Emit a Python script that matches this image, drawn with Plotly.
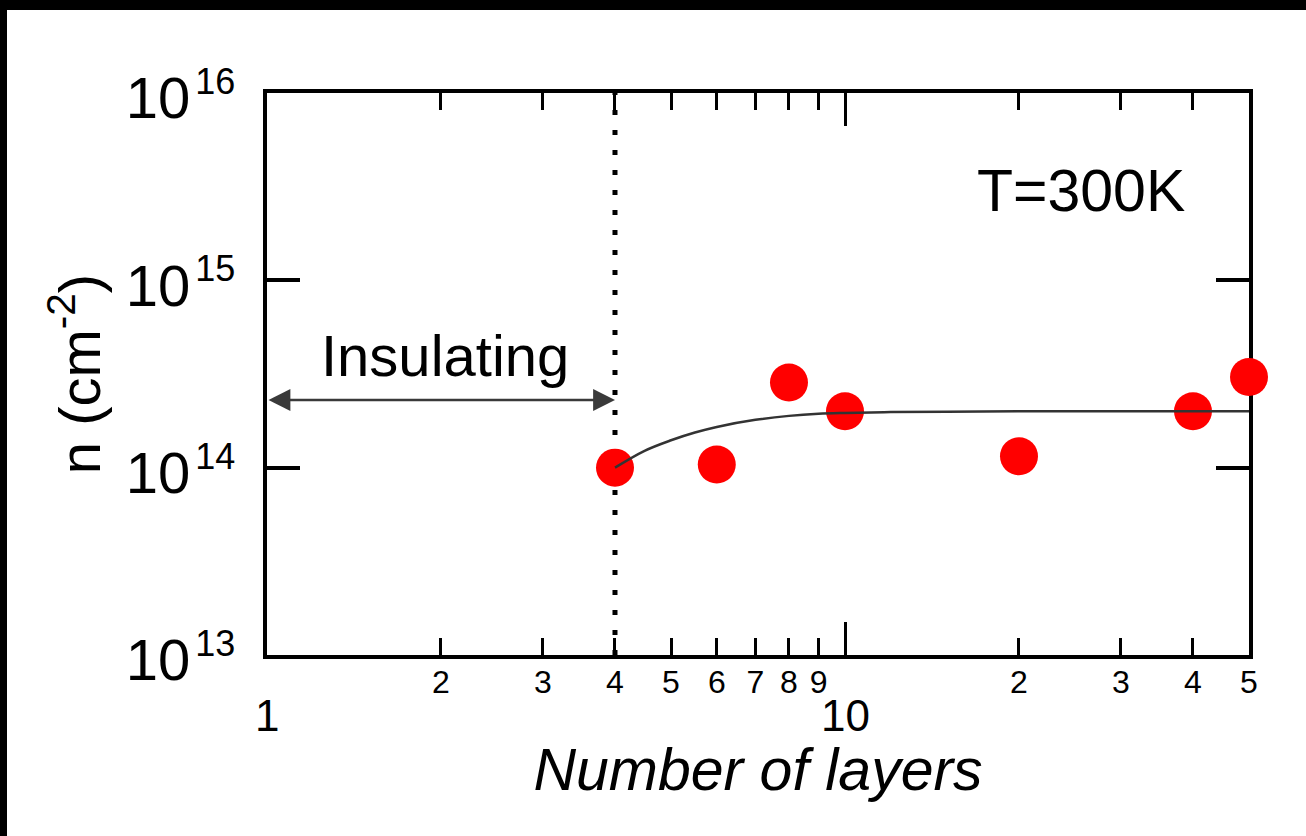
import numpy as np
import plotly.graph_objects as go

# ---- data ----
layers = [4, 6, 8, 10, 20, 40, 50]
density = [1.0e14, 1.04e14, 2.85e14, 2.0e14, 1.15e14, 2.0e14, 3.05e14]

fit_x = [4, 4.5, 5.0, 5.5, 6.0, 7.0, 8.0, 9.0, 10, 12, 15, 20, 30, 50]
fit_y = [1.0e14, 1.23e14, 1.40e14, 1.54e14, 1.65e14, 1.80e14, 1.89e14, 1.94e14,
         1.96e14, 1.98e14, 1.99e14, 2.0e14, 2.0e14, 2.0e14]

boundary_x = [4, 4]
boundary_y = [1e13, 1e16]

x_minor_vals = [2, 3, 4, 5, 6, 7, 8, 9, 20, 30, 40, 50]
x_minor_text = ["2", "3", "4", "5", "6", "7", "8", "9", "2", "3", "4", "5"]
x_major_vals = [1, 10]
x_major_text = ["1", "10"]
y_vals = [1e13, 1e14, 1e15, 1e16]
y_exps = ["13", "14", "15", "16"]
y_text = ["10<span style='font-size:18px'> </span><sup><span style='font-size:36px'>%s</span></sup>" % e
          for e in y_exps]

FONT = "Liberation Sans, Arial, sans-serif"

fig = go.Figure()
fig.add_trace(go.Scatter(x=boundary_x, y=boundary_y, mode="lines",
                         line=dict(color="black", width=5, dash="5px,15px"),
                         hoverinfo="skip", showlegend=False))
fig.add_trace(go.Scatter(x=layers, y=density, mode="markers",
                         marker=dict(color="#ff0000", size=38, line=dict(width=0)),
                         cliponaxis=False, showlegend=False))
fig.add_trace(go.Scatter(x=fit_x, y=fit_y, mode="lines", line_shape="spline",
                         line=dict(color="#333333", width=2.5),
                         cliponaxis=False, showlegend=False))

annotations = []
for v, t in zip(x_major_vals, x_major_text):
    annotations.append(dict(x=np.log10(v), y=-0.108, xref="x", yref="paper",
                            text=t, showarrow=False, xanchor="center", yanchor="middle",
                            font=dict(family=FONT, size=44, color="black")))
annotations.append(dict(x=np.log10(4), y=14.361, ax=0, ay=14.361, xref="x", yref="y",
                        axref="x", ayref="y", text="", showarrow=True,
                        arrowhead=2, startarrowhead=2, arrowside="end+start",
                        arrowwidth=2.5, arrowsize=1.75, startarrowsize=1.75,
                        arrowcolor="#3a3a3a", standoff=0, startstandoff=0))
annotations.append(dict(x=0.308, y=14.60, xref="x", yref="y", text="Insulating",
                        showarrow=False, xanchor="center", yanchor="middle",
                        font=dict(family=FONT, size=58, color="black")))
annotations.append(dict(x=1.408, y=15.477, xref="x", yref="y", text="T=300K",
                        showarrow=False, xanchor="center", yanchor="middle",
                        font=dict(family=FONT, size=59, color="black")))

W, H = 1306, 836
L, R, T, B = 267, 57, 93, 181
pw, ph = W - L - R, H - T - B
def px(x):
    return (x - L) / pw
def py(y):
    return (H - B - y) / ph

shapes = [
    dict(type="rect", xref="paper", yref="paper", x0=px(0), x1=px(7), y0=py(H), y1=py(0),
         fillcolor="black", line=dict(width=0), layer="above"),
    dict(type="rect", xref="paper", yref="paper", x0=px(0), x1=px(W), y0=py(10), y1=py(0),
         fillcolor="black", line=dict(width=0), layer="above"),
]

fig.update_layout(
    width=W, height=H,
    margin=dict(l=L, r=R, t=T, b=B, pad=0),
    paper_bgcolor="white", plot_bgcolor="white",
    showlegend=False,
    annotations=annotations,
    shapes=shapes,
    xaxis=dict(type="log", range=[0, np.log10(50)],
               showgrid=False, zeroline=False,
               showline=True, linecolor="black", linewidth=4, mirror="allticks",
               ticks="inside", ticklen=17, tickwidth=3, tickcolor="black",
               tickmode="array", tickvals=x_minor_vals, ticktext=x_minor_text,
               tickfont=dict(family=FONT, size=32, color="black"),
               ticklabelstandoff=-4,
               minor=dict(tickmode="array", tickvals=[10], ticks="inside", ticklen=33,
                          tickwidth=3, tickcolor="black", showgrid=False),
               title=dict(text="<i>Number of layers</i>", standoff=50,
                          font=dict(family=FONT, size=59, color="black")),
               layer="below traces"),
    yaxis=dict(type="log", range=[13, 16],
               showgrid=False, zeroline=False,
               showline=True, linecolor="black", linewidth=4, mirror="allticks",
               ticks="inside", ticklen=33, tickwidth=4, tickcolor="black",
               tickmode="array", tickvals=y_vals, ticktext=y_text,
               tickfont=dict(family=FONT, size=58, color="black"),
               ticklabelstandoff=16, ticklabelshift=5,
               title=dict(text="n (cm<sup>-2</sup>)", standoff=8,
                          font=dict(family=FONT, size=58, color="black")),
               layer="below traces"),
)

fig.write_html("out.html")
